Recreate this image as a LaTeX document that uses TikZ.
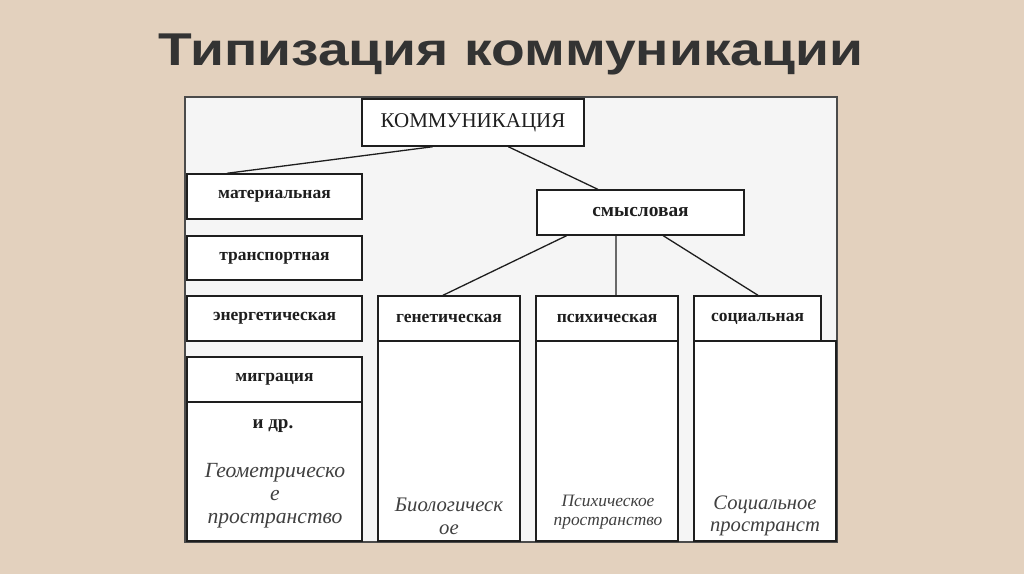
\documentclass[tikz,border=0pt]{standalone}
\usepackage{fontspec}
\setmainfont{Liberation Serif}
\newfontfamily\titlefont{Liberation Sans}
\usetikzlibrary{calc}
\definecolor{bg}{HTML}{E3D1BE}
\definecolor{panel}{HTML}{F5F5F5}
\definecolor{ink}{HTML}{1E1E1E}
\definecolor{titleink}{HTML}{333333}
\tikzset{
  lbox/.style={draw=ink, line width=1.4pt, fill=white, inner sep=0pt, font=\fontsize{17.5}{20}\selectfont\bfseries, text=ink},
  conn/.style={draw=ink, line width=1.3pt},
  itext/.style={text=ink!85, align=center, inner sep=0pt},
}
\begin{document}
\begin{tikzpicture}[x=1pt,y=-1pt]
\fill[bg] (0,0) rectangle (1024,574);
\useasboundingbox (0,0) rectangle (1024,574);
\node[font=\titlefont\fontsize{46}{50}\selectfont\bfseries, text=titleink, anchor=base, inner sep=0pt] (title) at (511,65) {\scalebox{1.2}[1]{Типизация коммуникации}};
\draw[draw=ink!80, line width=1.6pt, fill=panel] (185,97) rectangle (837,542);
% top
\node[lbox, minimum width=222pt, minimum height=47pt, font=\fontsize{21}{24}\selectfont] (kom) at (473,122.5) {КОММУНИКАЦИЯ};
% left column
\node[lbox, minimum width=175pt, minimum height=45pt] (mat) at (274.5,196.5) {материальная};
\node[lbox, minimum width=175pt, minimum height=44pt] (trans) at (274.5,258) {транспортная};
\node[lbox, minimum width=175pt, minimum height=45pt] (energ) at (274.5,318.5) {энергетическая};
\node[lbox, minimum width=175pt, minimum height=45pt] (migr) at (274.5,379.5) {миграция};
\node[lbox, minimum width=175pt, minimum height=139pt] (geo) at (274.5,471.5) {};
\node[font=\fontsize{19}{20}\selectfont\bfseries, text=ink] (idr) at (273,426) {и др.};
\node[itext, font=\fontsize{21.6}{23}\selectfont\itshape] (geot) at (275,496) {Геометрическо\\е\\пространство};
% smyslovaya
\node[lbox, minimum width=207pt, minimum height=45pt, font=\fontsize{19.4}{22}\selectfont\bfseries] (smysl) at (640.5,212.5) {смысловая};
% lower boxes
\node[lbox, minimum width=142pt, minimum height=200pt] (bio) at (449,441) {};
\node[lbox, minimum width=142pt, minimum height=45pt] (gen) at (449,318.5) {генетическая};
\node[lbox, minimum width=142pt, minimum height=200pt] (psyb) at (607,441) {};
\node[lbox, minimum width=142pt, minimum height=45pt] (psy) at (607,318.5) {психическая};
\node[lbox, minimum width=142pt, minimum height=200pt] (socb) at (765,441) {};
\node[lbox, minimum width=127pt, minimum height=45pt] (soc) at (757.5,318.5) {социальная};
\node[itext, font=\fontsize{20.7}{23}\selectfont\itshape] (biot) at (449,516) {Биологическ\\ое};
\node[itext, font=\fontsize{17.4}{19}\selectfont\itshape] (psyt) at (608,512) {Психическое\\пространство};
\node[itext, font=\fontsize{20.6}{22}\selectfont\itshape] (soct) at (765,516) {Социальное\\пространст};
% connectors
\draw[conn] ($(kom.south west)!0.32!(kom.south east)$) -- ($(mat.north west)!0.23!(mat.north east)$);
\draw[conn] ($(kom.south west)!0.658!(kom.south east)$) -- ($(smysl.north west)!0.295!(smysl.north east)$);
\draw[conn] ($(smysl.south west)!0.145!(smysl.south east)$) -- ($(gen.north west)!0.458!(gen.north east)$);
\draw[conn] ($(smysl.south west)!0.382!(smysl.south east)$) -- ($(psy.north west)!0.563!(psy.north east)$);
\draw[conn] ($(smysl.south west)!0.609!(smysl.south east)$) -- ($(soc.north west)!0.504!(soc.north east)$);
\end{tikzpicture}
\end{document}
